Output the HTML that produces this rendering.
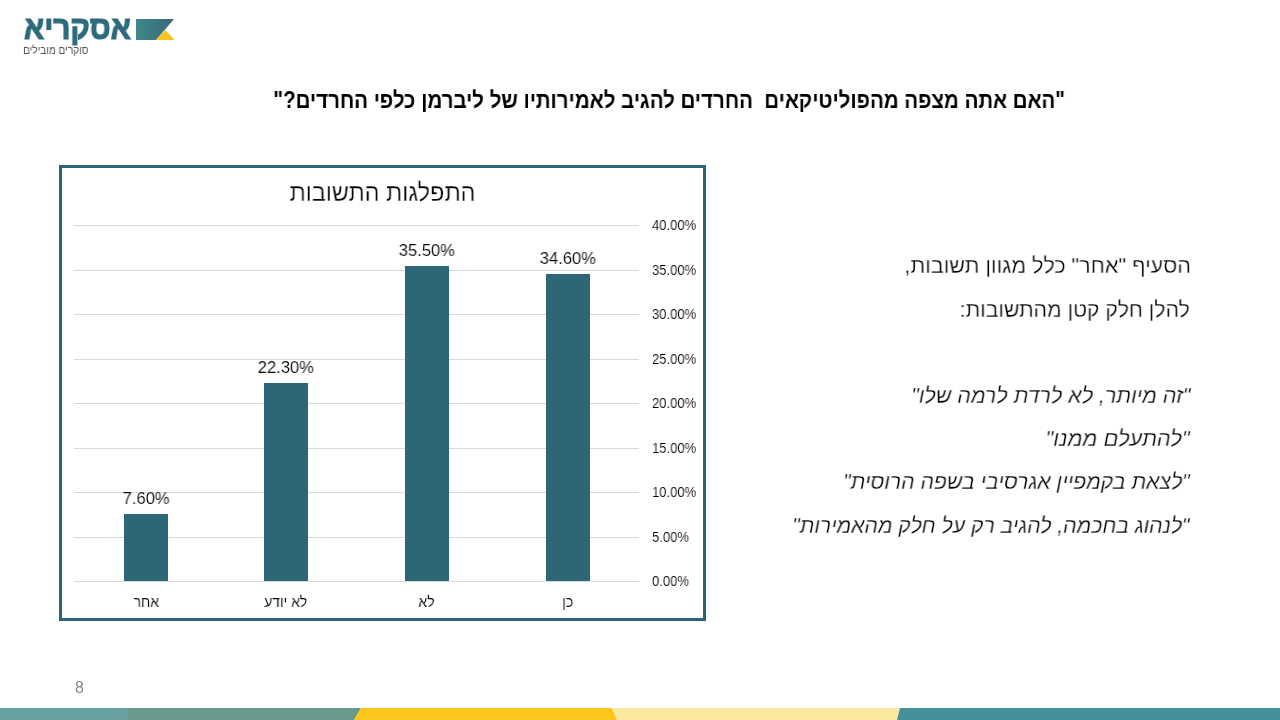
<!DOCTYPE html>
<html lang="he">
<head>
<meta charset="utf-8">
<style>
html,body{margin:0;padding:0;}
body{width:1280px;height:720px;overflow:hidden;background:#fff;position:relative;font-family:"Liberation Sans",sans-serif;color:#000;}
.abs{position:absolute;}
.t{position:absolute;white-space:pre;line-height:1;direction:rtl;}
.sx{display:inline-block;will-change:transform;}
.th{-webkit-text-stroke:0.3px #fff;}
.th2{-webkit-text-stroke:0.12px #fff;}
.g{position:absolute;left:74px;width:565px;height:1px;background:#d9d9d9;}
.bar{position:absolute;width:44px;background:#2c6677;}
</style>
</head>
<body>

<svg class="abs" style="left:0;top:0" width="200" height="70" viewBox="0 0 200 70">
<defs><linearGradient id="lg" x1="0" y1="0" x2="1" y2="0"><stop offset="0" stop-color="#418888"/><stop offset="1" stop-color="#386678"/></linearGradient></defs>
<polygon points="136,19 174,19 156,40 136,40" fill="url(#lg)"/>
<polygon points="156,40 174.5,40 165.5,30" fill="#f7c51a"/>
</svg>
<div class="t " style="right:1149px;top:12.49px;font-size:32.5px;font-weight:bold;color:#2d6a7b;-webkit-text-stroke:1.2px #2d6a7b;"><span class="sx" style="transform:scaleX(0.915);transform-origin:100% 0">אסקריא</span></div>
<div class="t " style="right:1191.7px;top:44.99px;font-size:11px;color:#505050;"><span class="sx" style="transform:scaleX(0.915);transform-origin:100% 0">סוקרים מובילים</span></div>
<div class="t " style="right:215px;top:89.03px;font-size:23px;font-weight:bold;"><span class="sx" style="transform:scaleX(0.8905);transform-origin:100% 0">"האם אתה מצפה מהפוליטיקאים  החרדים להגיב לאמירותיו של ליברמן כלפי החרדים?"</span></div>
<div class="abs" style="left:59px;top:165px;width:641px;height:450px;border:3px solid #2b6377;"></div>
<div class="t th" style="right:804.5px;top:179.71px;font-size:25.5px;"><span class="sx" style="transform:scaleX(0.918);transform-origin:100% 0">התפלגות התשובות</span></div>
<div class="g" style="top:225px"></div>
<div class="g" style="top:270px"></div>
<div class="g" style="top:314px"></div>
<div class="g" style="top:359px"></div>
<div class="g" style="top:403px"></div>
<div class="g" style="top:448px"></div>
<div class="g" style="top:492px"></div>
<div class="g" style="top:537px"></div>
<div class="g" style="top:581px"></div>
<div class="t th2" style="left:651.7px;top:218.35px;font-size:14px;direction:ltr;color:#000;"><span class="sx" style="transform:scaleX(0.93);transform-origin:0 0">40.00%</span></div>
<div class="t th2" style="left:651.7px;top:263.35px;font-size:14px;direction:ltr;color:#000;"><span class="sx" style="transform:scaleX(0.93);transform-origin:0 0">35.00%</span></div>
<div class="t th2" style="left:651.7px;top:307.35px;font-size:14px;direction:ltr;color:#000;"><span class="sx" style="transform:scaleX(0.93);transform-origin:0 0">30.00%</span></div>
<div class="t th2" style="left:651.7px;top:352.35px;font-size:14px;direction:ltr;color:#000;"><span class="sx" style="transform:scaleX(0.93);transform-origin:0 0">25.00%</span></div>
<div class="t th2" style="left:651.7px;top:396.35px;font-size:14px;direction:ltr;color:#000;"><span class="sx" style="transform:scaleX(0.93);transform-origin:0 0">20.00%</span></div>
<div class="t th2" style="left:651.7px;top:441.35px;font-size:14px;direction:ltr;color:#000;"><span class="sx" style="transform:scaleX(0.93);transform-origin:0 0">15.00%</span></div>
<div class="t th2" style="left:651.7px;top:485.35px;font-size:14px;direction:ltr;color:#000;"><span class="sx" style="transform:scaleX(0.93);transform-origin:0 0">10.00%</span></div>
<div class="t th2" style="left:651.7px;top:530.35px;font-size:14px;direction:ltr;color:#000;"><span class="sx" style="transform:scaleX(0.93);transform-origin:0 0">5.00%</span></div>
<div class="t th2" style="left:651.7px;top:574.35px;font-size:14px;direction:ltr;color:#000;"><span class="sx" style="transform:scaleX(0.93);transform-origin:0 0">0.00%</span></div>
<div class="bar" style="left:124px;top:514px;height:67px"></div>
<div class="t th2" style="left:86px;width:120px;text-align:center;direction:ltr;top:490.41px;font-size:17px;color:#000"><span class="sx" style="transform:scaleX(0.975);transform-origin:50% 0">7.60%</span></div>
<div class="t th2" style="left:86px;width:120px;text-align:center;top:595.46px;font-size:14.7px;color:#000"><span class="sx" style="transform:scaleX(0.95);transform-origin:50% 0">אחר</span></div>
<div class="bar" style="left:264px;top:383px;height:198px"></div>
<div class="t th2" style="left:226px;width:120px;text-align:center;direction:ltr;top:359.41px;font-size:17px;color:#000"><span class="sx" style="transform:scaleX(0.975);transform-origin:50% 0">22.30%</span></div>
<div class="t th2" style="left:226px;width:120px;text-align:center;top:595.46px;font-size:14.7px;color:#000"><span class="sx" style="transform:scaleX(0.95);transform-origin:50% 0">לא יודע</span></div>
<div class="bar" style="left:405px;top:266px;height:315px"></div>
<div class="t th2" style="left:367px;width:120px;text-align:center;direction:ltr;top:242.41px;font-size:17px;color:#000"><span class="sx" style="transform:scaleX(0.975);transform-origin:50% 0">35.50%</span></div>
<div class="t th2" style="left:367px;width:120px;text-align:center;top:595.46px;font-size:14.7px;color:#000"><span class="sx" style="transform:scaleX(0.95);transform-origin:50% 0">לא</span></div>
<div class="bar" style="left:546px;top:274px;height:307px"></div>
<div class="t th2" style="left:508px;width:120px;text-align:center;direction:ltr;top:250.41px;font-size:17px;color:#000"><span class="sx" style="transform:scaleX(0.975);transform-origin:50% 0">34.60%</span></div>
<div class="t th2" style="left:508px;width:120px;text-align:center;top:595.46px;font-size:14.7px;color:#000"><span class="sx" style="transform:scaleX(0.95);transform-origin:50% 0">כן</span></div>
<div class="t " style="left:75px;top:680.06px;font-size:16px;color:#888;direction:ltr"><span class="sx" style="transform:scaleX(1.0);transform-origin:0 0">8</span></div>
<div class="t th" style="right:89px;top:254.84px;font-size:22.4px;"><span class="sx" style="transform:scaleX(0.962);transform-origin:100% 0">הסעיף "אחר" כלל מגוון תשובות,</span></div>
<div class="t th" style="right:90px;top:298.74px;font-size:22.4px;"><span class="sx" style="transform:scaleX(0.948);transform-origin:100% 0">להלן חלק קטן מהתשובות:</span></div>
<div class="t th" style="right:90px;top:384.84px;font-size:22.4px;font-style:italic;"><span class="sx" style="transform:scaleX(0.955);transform-origin:100% 0">"זה מיותר, לא לרדת לרמה שלו"</span></div>
<div class="t th" style="right:90px;top:427.64px;font-size:22.4px;font-style:italic;"><span class="sx" style="transform:scaleX(0.977);transform-origin:100% 0">"להתעלם ממנו"</span></div>
<div class="t th" style="right:90px;top:470.79px;font-size:22.4px;font-style:italic;"><span class="sx" style="transform:scaleX(0.948);transform-origin:100% 0">"לצאת בקמפיין אגרסיבי בשפה הרוסית"</span></div>
<div class="t th" style="right:90px;top:514.54px;font-size:22.4px;font-style:italic;"><span class="sx" style="transform:scaleX(0.945);transform-origin:100% 0">"לנהוג בחכמה, להגיב רק על חלק מהאמירות"</span></div>
<svg class="abs" style="left:0;top:708px" width="1280" height="12" viewBox="0 0 1280 12">
<rect x="0" y="0" width="128" height="12" fill="#68a0a0"/>
<polygon points="128,0 361,0 354,12 128,12" fill="#6a9a8e"/>
<polygon points="361,0 612,0 617,12 354,12" fill="#fcc61c"/>
<polygon points="612,0 900,0 897,12 617,12" fill="#fbe9a0"/>
<polygon points="900,0 1280,0 1280,12 897,12" fill="#46909c"/>
</svg>
</body>
</html>
